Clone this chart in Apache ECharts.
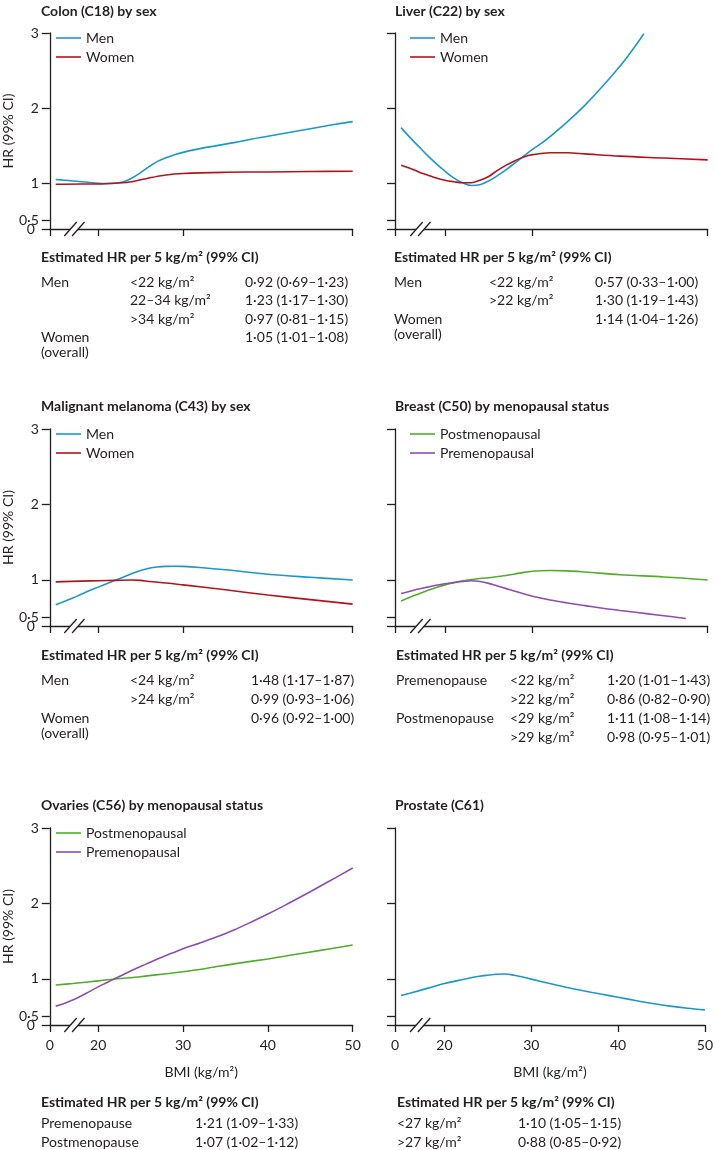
<!DOCTYPE html>
<html>
<head>
<meta charset="utf-8">
<script src="https://cdn.jsdelivr.net/npm/echarts@6/dist/echarts.min.js"></script>
<style>
html,body{margin:0;padding:0;background:#fff;}
#chart{width:716px;height:1150px;}
</style>
</head>
<body>
<div id="chart"></div>
<script>
// ---------------- DATA ----------------
// BMI (kg/m²) vs HR
const colonMen = [[15,1.05],[16,1.04],[17,1.03],[18,1.02],[19,1.01],[20,1.0],[21,0.995],[22,1.0],[23,1.02],[24,1.07],[25,1.14],[26,1.22],[27,1.29],[28,1.34],[29,1.38],[30,1.41],[32,1.46],[34,1.5],[36,1.54],[38,1.585],[40,1.625],[42,1.665],[44,1.705],[46,1.745],[48,1.785],[50,1.82]];
const colonWomen = [[15,0.985],[18,0.99],[20,0.99],[22,1.0],[24,1.02],[26,1.07],[28,1.11],[30,1.13],[35,1.145],[40,1.15],[45,1.155],[50,1.16]];
const liverMen = [[15,1.74],[16,1.61],[17,1.49],[18,1.37],[19,1.26],[20,1.16],[21,1.07],[22,1.005],[23,0.97],[24,0.98],[25,1.03],[26,1.1],[27,1.18],[28,1.27],[29,1.36],[30,1.45],[31,1.53],[32,1.62],[34,1.82],[36,2.04],[38,2.29],[40,2.56],[41,2.71],[42,2.87],[42.7,2.99]];
const liverWomen = [[15,1.24],[16,1.2],[17,1.15],[18,1.11],[19,1.07],[20,1.04],[21,1.02],[22,1.005],[23,1.005],[24,1.04],[25,1.09],[26,1.17],[27,1.24],[28,1.3],[29,1.35],[30,1.38],[32,1.405],[34,1.405],[36,1.39],[40,1.36],[45,1.335],[50,1.31]];
const melanomaMen = [[15,0.67],[16,0.715],[17,0.76],[18,0.81],[19,0.86],[20,0.905],[21,0.95],[22,0.995],[23,1.04],[24,1.085],[25,1.125],[26,1.155],[27,1.172],[28,1.18],[29,1.182],[30,1.18],[32,1.165],[35,1.135],[40,1.075],[45,1.035],[50,1.0]];
const melanomaWomen = [[15,0.975],[18,0.985],[20,0.99],[22,0.995],[24,1.0],[25,0.995],[26,0.98],[28,0.96],[30,0.935],[35,0.87],[40,0.8],[45,0.74],[50,0.68]];
const breastPost = [[15,0.72],[16,0.77],[17,0.815],[18,0.86],[19,0.9],[20,0.935],[21,0.965],[22,0.99],[23,1.005],[24,1.02],[25,1.03],[26,1.045],[27,1.06],[28,1.08],[29,1.1],[30,1.115],[31,1.122],[32,1.125],[34,1.12],[36,1.105],[40,1.07],[45,1.04],[50,1.0]];
const breastPre = [[15,0.82],[16,0.85],[17,0.88],[18,0.905],[19,0.93],[20,0.95],[21,0.965],[22,0.98],[23,0.99],[24,0.98],[25,0.955],[26,0.92],[27,0.885],[28,0.85],[30,0.785],[32,0.735],[34,0.695],[36,0.66],[38,0.625],[40,0.595],[42,0.568],[44,0.54],[46,0.512],[47.5,0.49]];
const ovariesPost = [[15,0.92],[17,0.94],[20,0.975],[22,1.0],[25,1.03],[28,1.07],[30,1.095],[33,1.145],[36,1.2],[40,1.265],[43,1.32],[46,1.375],[50,1.45]];
const ovariesPre = [[15,0.64],[16,0.675],[17,0.72],[18,0.775],[19,0.835],[20,0.895],[21,0.95],[22,1.005],[23,1.06],[24,1.115],[25,1.165],[26,1.215],[27,1.265],[28,1.31],[29,1.355],[30,1.4],[32,1.478],[34,1.56],[36,1.65],[38,1.752],[40,1.86],[42,1.975],[44,2.095],[46,2.218],[48,2.343],[50,2.47]];
const prostate = [[15,0.78],[16,0.81],[18,0.875],[20,0.94],[22,0.99],[24,1.035],[25,1.05],[26,1.062],[27,1.065],[28,1.05],[29,1.025],[30,0.998],[32,0.942],[34,0.89],[36,0.843],[38,0.8],[40,0.758],[42,0.715],[44,0.675],[46,0.64],[48,0.612],[50,0.59]];

// axis ticks / tick labels (the lowest value is the broken-axis origin, labelled 0)
const X_MIN = 14.3, X_MAX = 50;
const Y_MIN = 0.39, Y_MAX = 3;
const xTicksUpper = [14.3, 20, 30, 50];
const xTicksLower = [14.3, 20, 30, 40, 50];
const xTickLabels = ['0', '20', '30', '40', '50'];
const yTicks = [0.39, 0.5, 1, 2, 3];
const yTickLabels = ['0', '0·5', '1', '2', '3'];
const BREAK_X = 17.2;

// tables of estimated HR per 5 kg/m²
const tableHeading = 'Estimated HR per 5 kg/m² (99% CI)';
const colonTable = [['Men','<22 kg/m²','0·92 (0·69–1·23)'],['','22–34 kg/m²','1·23 (1·17–1·30)'],['','>34 kg/m²','0·97 (0·81–1·15)'],['Women\n(overall)','','1·05 (1·01–1·08)']];
const liverTable = [['Men','<22 kg/m²','0·57 (0·33–1·00)'],['','>22 kg/m²','1·30 (1·19–1·43)'],['Women\n(overall)','','1·14 (1·04–1·26)']];
const melanomaTable = [['Men','<24 kg/m²','1·48 (1·17–1·87)'],['','>24 kg/m²','0·99 (0·93–1·06)'],['Women\n(overall)','','0·96 (0·92–1·00)']];
const breastTable = [['Premenopause','<22 kg/m²','1·20 (1·01–1·43)'],['','>22 kg/m²','0·86 (0·82–0·90)'],['Postmenopause','<29 kg/m²','1·11 (1·08–1·14)'],['','>29 kg/m²','0·98 (0·95–1·01)']];
const ovariesTable = [['Premenopause','','1·21 (1·09–1·33)'],['Postmenopause','','1·07 (1·02–1·12)']];
const prostateTable = [['','<27 kg/m²','1·10 (1·05–1·15)'],['','>27 kg/m²','0·88 (0·85–0·92)']];

// ---------------- STYLE / LAYOUT ----------------
const FONT = 'Lato, "Open Sans", sans-serif';
const FS = 14;
const INK = '#231f20';
const MEN = '#1b98cc', WOMEN = '#b3141c', POST = '#52ad2c', PRE = '#8b4fb3';

const panels = [
  {title:'Colon (C18) by sex', left:41, top:33, width:311.7, height:196, titleY:11,
   series:[['Men',colonMen,MEN],['Women',colonWomen,WOMEN]], xTicks:xTicksUpper, yLabels:true, xLabels:false,
   table:colonTable, cols:[41,130,245], headY:257.5, rowY:[282,300.5,319,337.5]},
  {title:'Liver (C22) by sex', left:395, top:33, width:312.7, height:196, titleY:11,
   series:[['Men',liverMen,MEN],['Women',liverWomen,WOMEN]], xTicks:xTicksUpper, yLabels:false, xLabels:false,
   table:liverTable, cols:[394,489,595], headY:257.5, rowY:[282,300.5,319]},
  {title:'Malignant melanoma (C43) by sex', left:41, top:429, width:311.7, height:197, titleY:406.5,
   series:[['Men',melanomaMen,MEN],['Women',melanomaWomen,WOMEN]], xTicks:xTicksUpper, yLabels:true, xLabels:false,
   table:melanomaTable, cols:[41,130,251], headY:655, rowY:[680,699,718]},
  {title:'Breast (C50) by menopausal status', left:395, top:429, width:312.7, height:197, titleY:406.5,
   series:[['Postmenopausal',breastPost,POST],['Premenopausal',breastPre,PRE]], xTicks:xTicksUpper, yLabels:false, xLabels:false,
   table:breastTable, cols:[396,510,607], headY:655, rowY:[680,699,718,737]},
  {title:'Ovaries (C56) by menopausal status', left:41, top:828, width:311.7, height:197, titleY:805.5,
   series:[['Postmenopausal',ovariesPost,POST],['Premenopausal',ovariesPre,PRE]], xTicks:xTicksLower, yLabels:true, xLabels:true,
   table:ovariesTable, cols:[41,130,195], headY:1102, rowY:[1123,1142]},
  {title:'Prostate (C61)', left:395, top:828, width:312.7, height:197, titleY:805.5,
   series:[['Men',prostate,MEN]], xTicks:xTicksLower, yLabels:false, xLabels:true, noLegend:true,
   table:prostateTable, cols:[397,397,518], headY:1102, rowY:[1123,1142]}
];

function xLabel(v){ const i = xTicksLower.findIndex(t => Math.abs(t - v) < 1e-6); return i >= 0 ? xTickLabels[i] : ''; }
function yLabel(v){ const i = yTicks.findIndex(t => Math.abs(t - v) < 1e-6); return i >= 0 ? yTickLabels[i] : ''; }

const option = {
  animation:false,
  backgroundColor:'#fff',
  textStyle:{fontFamily:FONT},
  grid:[], xAxis:[], yAxis:[], series:[], legend:[], graphic:[]
};

panels.forEach((p, i) => {
  option.grid.push({left:p.left, top:p.top, width:p.width, height:p.height, containLabel:false});
  option.xAxis.push({
    type:'value', gridIndex:i, min:X_MIN, max:X_MAX,
    axisLine:{show:true, lineStyle:{color:INK, width:1.3}},
    axisTick:{show:true, inside:false, length:7, customValues:p.xTicks, lineStyle:{color:INK, width:1.3}},
    axisLabel:{show:p.xLabels, customValues:xTicksLower, formatter:xLabel, color:INK, fontSize:FS, fontFamily:FONT, margin:13,
               showMinLabel:true, showMaxLabel:true, alignMinLabel:'center', alignMaxLabel:'center', hideOverlap:false},
    splitLine:{show:false},
    name:p.xLabels ? 'BMI (kg/m²)' : '', nameLocation:'middle', nameGap:40,
    nameTextStyle:{color:INK, fontSize:FS, fontFamily:FONT}
  });
  // main y axis (labels above the origin)
  option.yAxis.push({
    type:'value', gridIndex:i, min:Y_MIN, max:Y_MAX,
    axisLine:{show:true, lineStyle:{color:INK, width:1.3}},
    axisTick:{show:true, inside:false, length:8, customValues:yTicks, lineStyle:{color:INK, width:1.3}},
    axisLabel:{show:p.yLabels, customValues:yTicks.slice(1), formatter:yLabel, color:INK, fontSize:FS, fontFamily:FONT, margin:11,
               hideOverlap:false, showMaxLabel:true},
    splitLine:{show:false},
    name:p.yLabels ? 'HR (99% CI)' : '', nameLocation:'middle', nameRotate:90, nameGap:24,
    nameTextStyle:{color:INK, fontSize:FS, fontFamily:FONT}
  });
  p.series.forEach(s => {
    option.series.push({
      type:'line', name:s[0], xAxisIndex:i, yAxisIndex:i, data:s[1],
      smooth:0.35, symbol:'none', lineStyle:{color:s[2], width:1.6}, itemStyle:{color:s[2]}, z:3
    });
  });
  // axis break marks on the x axis
  option.series.push({
    type:'custom', xAxisIndex:i, yAxisIndex:i, clip:false, silent:true, z:6,
    data:[[BREAK_X, Y_MIN]],
    renderItem:(params, api) => {
      const c = api.coord([api.value(0), api.value(1)]);
      const dx = 6.2, dy = 7, sep = 3.9, h = 2.6, k = dx / dy;
      const c1 = c[0] - sep, c2 = c[0] + sep;
      return {type:'group', children:[
        {type:'polygon', shape:{points:[[c1 + h*k, c[1]-h],[c2 + h*k, c[1]-h],[c2 - h*k, c[1]+h],[c1 - h*k, c[1]+h]]}, style:{fill:'#fff'}},
        {type:'line', shape:{x1:c1-dx, y1:c[1]+dy, x2:c1+dx, y2:c[1]-dy}, style:{stroke:INK, lineWidth:1.3}},
        {type:'line', shape:{x1:c2-dx, y1:c[1]+dy, x2:c2+dx, y2:c[1]-dy}, style:{stroke:INK, lineWidth:1.3}}
      ]};
    }
  });
  if (!p.noLegend) {
    option.legend.push({
      orient:'vertical', left:p.left + 15, top:p.top - 3, padding:0,
      icon:'rect', itemWidth:25, itemHeight:1.6, itemGap:3, selectedMode:false,
      data:p.series.map(s => s[0]),
      textStyle:{color:INK, fontSize:FS, fontFamily:FONT, lineHeight:16, padding:[0,0,0,0]}
    });
  }
  // title
  option.graphic.push({type:'text', x:p.left, y:p.titleY, silent:true,
    style:{text:p.title, fill:INK, font:'bold ' + FS + 'px ' + FONT, verticalAlign:'middle', align:'left'}});
  // table heading
  option.graphic.push({type:'text', x:p.cols[0], y:p.headY, silent:true,
    style:{text:tableHeading, fill:INK, font:'bold ' + FS + 'px ' + FONT, verticalAlign:'middle', align:'left'}});
  p.table.forEach((row, r) => {
    row.forEach((cell, c) => {
      if (!cell) return;
      option.graphic.push({type:'text', x:p.cols[c], y:p.rowY[r] - 7.5, silent:true,
        style:{text:cell, fill:INK, font:FS + 'px ' + FONT, lineHeight:15, verticalAlign:'top', align:'left'}});
    });
  });
});

// secondary y axes carrying only the "0" origin label on the left panels
panels.forEach((p, i) => {
  if (!p.yLabels) return;
  option.yAxis.push({
    type:'value', gridIndex:i, min:Y_MIN, max:Y_MAX, position:'left',
    axisLine:{show:false}, axisTick:{show:false}, splitLine:{show:false},
    axisLabel:{show:true, customValues:[yTicks[0]], formatter:yLabel, color:INK, fontSize:FS, fontFamily:FONT, margin:15,
               hideOverlap:false, showMinLabel:true, verticalAlign:'middle', padding:[3,0,0,0]}
  });
  // empty anchor series so the axis is used
  option.series.push({type:'line', xAxisIndex:i, yAxisIndex:option.yAxis.length - 1, data:[], silent:true});
});

const chart = echarts.init(document.getElementById('chart'), null, {renderer:'canvas', width:716, height:1150});
chart.setOption(option);
</script>
</body>
</html>
